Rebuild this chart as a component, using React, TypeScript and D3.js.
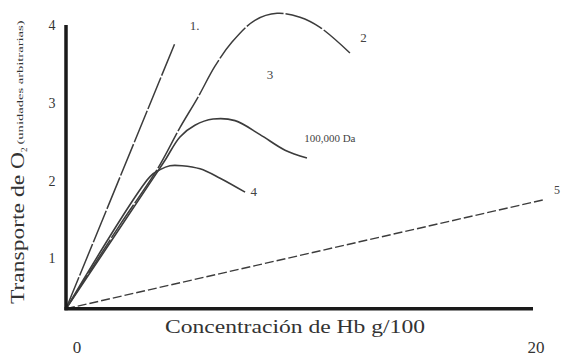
import React from "react";
import * as d3 from "d3";

const xTicks = [0, 20];
const yTicks = [1, 2, 3, 4];

const line1X = [0, 4.67];
const line1Y = [0.35, 3.77];

const curve2X = [0, 2.31, 3.9, 4.88, 5.65, 6.38, 7.11, 8.09, 9.04, 10.02, 10.88, 12.16];
const curve2Y = [0.35, 1.43, 2.14, 2.68, 3.07, 3.47, 3.78, 4.06, 4.15, 4.1, 3.97, 3.64];

const curveDaX = [0, 3.6, 4.24, 4.88, 5.52, 6.3, 7.24, 8.31, 9.38, 10.32];
const curveDaY = [0.35, 1.97, 2.26, 2.56, 2.71, 2.79, 2.77, 2.59, 2.39, 2.29];

const curve4X = [0, 3.6, 4.03, 4.45, 4.97, 5.74, 6.6, 7.67];
const curve4Y = [0.35, 2.05, 2.14, 2.19, 2.19, 2.15, 2.03, 1.85];

const line5X = [0, 20.43];
const line5Y = [0.35, 1.75];

const labels = ["1.", "2", "3", "100,000 Da", "4", "5"];
const labelX = [5.3, 12.6, 8.6, 10.2, 7.9, 20.9];
const labelY = [3.93, 3.78, 3.3, 2.5, 1.8, 1.82];

const W = 563;
const H = 357;

export default function App() {
  const x = d3.scaleLinear().domain([0, 20]).range([66, 533]);
  const y = d3.scaleLinear().domain([0, 4]).range([336, 25]);
  const x0 = x(0);
  const y0 = y(0.35);

  const smooth = d3
    .line<[number, number]>()
    .x((d) => x(d[0]))
    .y((d) => y(d[1]))
    .curve(d3.curveCatmullRom.alpha(0.5));
  const straight = d3
    .line<[number, number]>()
    .x((d) => x(d[0]))
    .y((d) => y(d[1]));

  const zip = (a: number[], b: number[]) => a.map((v, i) => [v, b[i]] as [number, number]);

  const stroke = "#3c3c3c";
  const serif = "'Liberation Serif', 'DejaVu Serif', serif";

  return (
    <svg width={W} height={H} style={{ position: "absolute", left: 0, top: 0, background: "#fff" }}>
      <rect width={W} height={H} fill="#fff" />
      {/* curves */}
      <path d={straight(zip(line1X, line1Y)) || ""} fill="none" stroke={stroke} strokeWidth={1.5} strokeDasharray="34,2" />
      <path d={smooth(zip(curve2X, curve2Y)) || ""} fill="none" stroke={stroke} strokeWidth={1.5} strokeDasharray="40,2" />
      <path d={smooth(zip(curveDaX, curveDaY)) || ""} fill="none" stroke={stroke} strokeWidth={1.6} />
      <path d={smooth(zip(curve4X, curve4Y)) || ""} fill="none" stroke={stroke} strokeWidth={1.6} />
      <path d={straight(zip(line5X, line5Y)) || ""} fill="none" stroke={stroke} strokeWidth={1.4} strokeDasharray="9,3" />
      {/* axes */}
      <line x1={x0} y1={y(4)} x2={x0} y2={y0 + 1.5} stroke="#1a1a1a" strokeWidth={3.5} />
      <line x1={x0 - 1.5} y1={y0} x2={x(20)} y2={y0} stroke="#1a1a1a" strokeWidth={3.5} />
      {/* y tick labels */}
      {yTicks.map((t) => (
        <text key={t} x={x0 - 14} y={y(t) + 5} fontSize={14} fontFamily={serif} fill="#333" textAnchor="middle">
          {t}
        </text>
      ))}
      {/* x tick labels */}
      {xTicks.map((t, i) => (
        <text key={t} x={x(t) + (i === 0 ? 11 : 3)} y={353} fontSize={17} fontFamily={serif} fill="#333" textAnchor="middle">
          {t}
        </text>
      ))}
      {/* curve labels */}
      {labels.map((l, i) => (
        <text
          key={l}
          x={x(labelX[i])}
          y={y(labelY[i])}
          fontSize={l.length > 3 ? 11 : l === "5" ? 12 : 13}
          fontFamily={serif}
          fill="#444"
          textAnchor="start"
        >
          {l}
        </text>
      ))}
      {/* axis titles */}
      <text x={165} y={333} fontSize={18} fontFamily={serif} fill="#333" textLength={260} lengthAdjust="spacingAndGlyphs">
        Concentración de Hb g/100
      </text>
      <g transform="translate(24,304) rotate(-90)">
        <text x={0} y={0} fontSize={19} fontFamily={serif} fill="#333">
          <tspan textLength={152} lengthAdjust="spacingAndGlyphs">Transporte de O</tspan>
          <tspan fontSize={9} dy={3}>2</tspan>
          <tspan fontSize={9} dy={-4} dx={3} textLength={124} lengthAdjust="spacingAndGlyphs">(unidades arbitrarias)</tspan>
        </text>
      </g>
    </svg>
  );
}
